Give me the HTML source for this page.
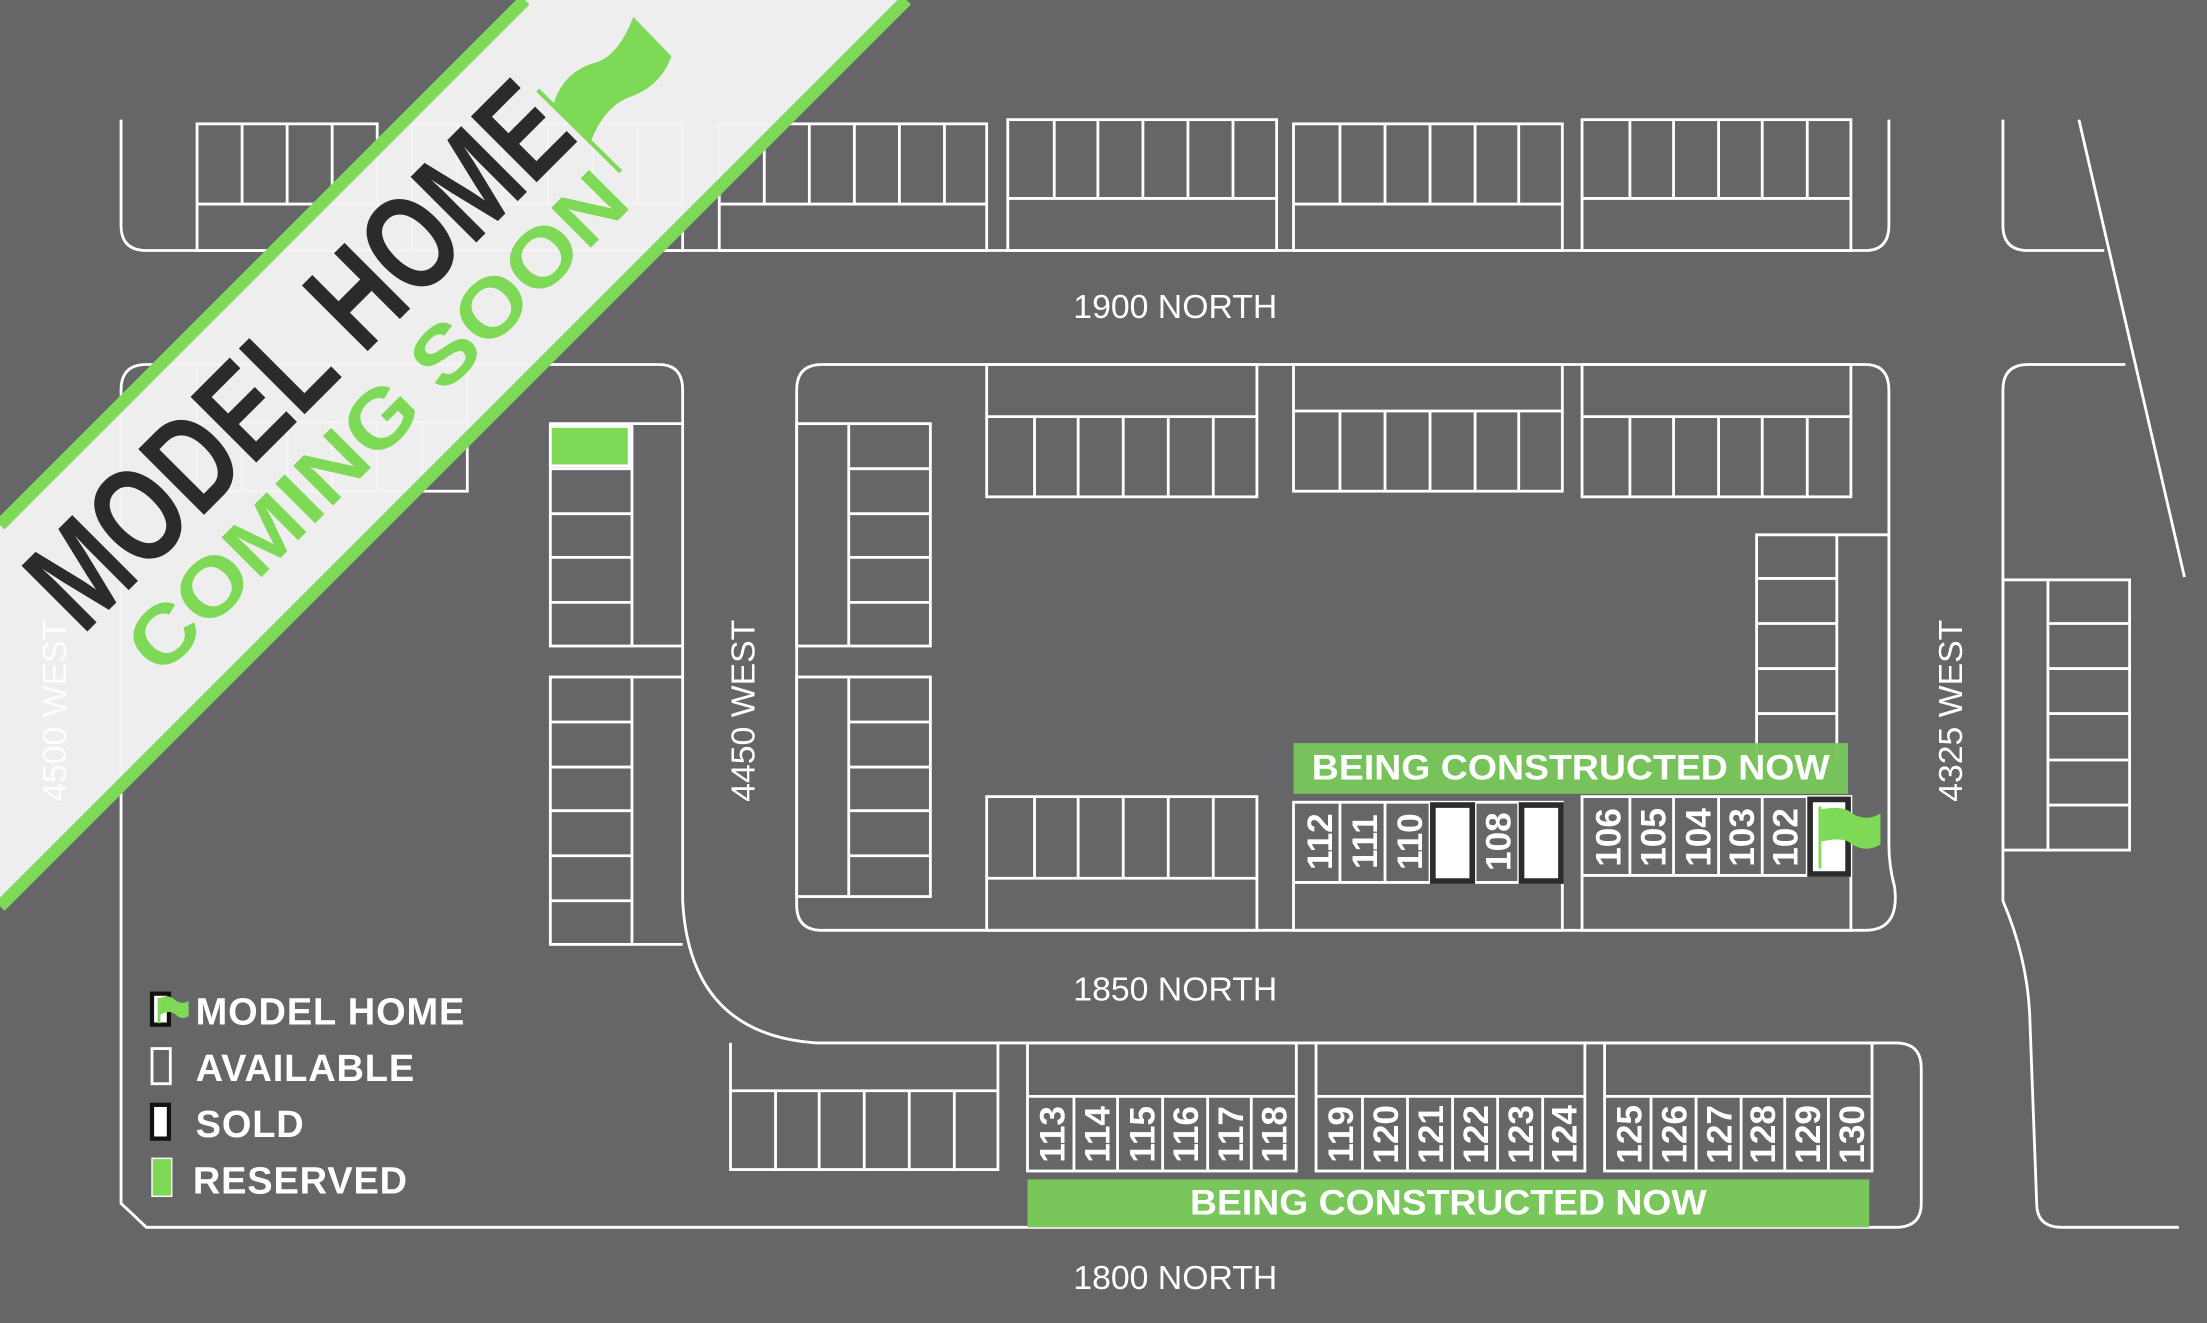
<!DOCTYPE html>
<html><head><meta charset="utf-8"><style>
html,body{margin:0;padding:0;background:#666668;}
svg{display:block;}
.l{fill:none;stroke:#fff;stroke-width:2;}
.n{font-family:"Liberation Sans",sans-serif;font-weight:bold;font-size:25px;fill:#fff;text-anchor:middle;dominant-baseline:central;}
.st{font-family:"Liberation Sans",sans-serif;font-size:24px;fill:#fff;text-anchor:middle;}
.lg{font-family:"Liberation Sans",sans-serif;font-weight:bold;font-size:27px;fill:#fff;letter-spacing:0.6px;}
.bc{font-family:"Liberation Sans",sans-serif;font-weight:bold;font-size:25px;fill:#fff;text-anchor:middle;}
</style></head><body>
<svg width="2207" height="1323" viewBox="0 0 1568 940" preserveAspectRatio="none" xmlns="http://www.w3.org/2000/svg">
<rect width="1568" height="940" fill="#666668"/>
<g class="l">
<path d="M86 85 V160 Q86 178 104 178 H1325 Q1342 178 1342 160 V85"/>
<rect x="140" y="88" width="128" height="90"/><path d="M140 145H268 M172 88V145 M204 88V145 M236 88V145"/>
<rect x="293" y="88" width="192" height="90"/><path d="M293 145H485 M325 88V145 M357 88V145 M389 88V145 M421 88V145 M453 88V145"/>
<rect x="511" y="88" width="190" height="90"/><path d="M511 145H701 M543 88V145 M575 88V145 M607 88V145 M639 88V145 M671 88V145"/>
<rect x="716" y="85" width="191" height="93"/><path d="M716 141H907 M749 85V141 M780 85V141 M812 85V141 M844 85V141 M876 85V141"/>
<rect x="919" y="88" width="191" height="90"/><path d="M919 145H1110 M952 88V145 M984 88V145 M1016 88V145 M1048 88V145 M1079 88V145"/>
<rect x="1124" y="85" width="191" height="93"/><path d="M1124 141H1315 M1158 85V141 M1189 85V141 M1221 85V141 M1252 85V141 M1284 85V141"/>
<path d="M86 277 Q86 259 104 259 H468 Q485 259 485 277 V640 Q490 735 580 741 H1347 Q1365 741 1365 759 V855 Q1365 872 1347 872 H104 L86 855 Z"/>
<rect x="140" y="259" width="192" height="90"/><path d="M140 300H332 M172 300V349 M204 300V349 M236 300V349 M268 300V349 M300 300V349"/>
<rect x="391" y="301" width="58" height="158"/><path d="M391 333H449 M391 365H449 M391 396H449 M391 428H449 M449 301H485 M449 459H485"/>
<rect x="391" y="481" width="58" height="190"/><path d="M391 513H449 M391 545H449 M391 576H449 M391 608H449 M391 640H449 M449 481H485 M449 671H485"/>
<path d="M584 259 H1325 Q1342 259 1342 277 V600 Q1342 615 1346 630 Q1350 661 1325 661 H584 Q566 661 566 643 V277 Q566 259 584 259 Z"/>
<rect x="566" y="301" width="95" height="158"/><path d="M603 301V459 M603 333H661 M603 365H661 M603 396H661 M603 428H661"/>
<rect x="566" y="481" width="95" height="156"/><path d="M603 481V637 M603 513H661 M603 545H661 M603 576H661 M603 608H661"/>
<rect x="701" y="259" width="192" height="94"/><path d="M701 296H893 M735 296V353 M766 296V353 M798 296V353 M830 296V353 M862 296V353"/>
<rect x="919" y="259" width="191" height="90"/><path d="M919 292H1110 M952 292V349 M984 292V349 M1016 292V349 M1048 292V349 M1079 292V349"/>
<rect x="1124" y="259" width="191" height="94"/><path d="M1124 296H1315 M1158 296V353 M1189 296V353 M1221 296V353 M1252 296V353 M1284 296V353"/>
<path d="M1248 540V380H1342 M1305 380V540 M1248 411H1305 M1248 443H1305 M1248 475H1305 M1248 507H1305"/>
<rect x="701" y="566" width="192" height="95"/><path d="M701 624H893 M735 566V624 M766 566V624 M798 566V624 M830 566V624 M862 566V624"/>
<rect x="919" y="570" width="191" height="91"/><path d="M919 627H1110 M952 570V627 M984 570V627 M1016 570V627 M1048 570V627 M1079 570V627"/>
<rect x="1124" y="566" width="191" height="95"/><path d="M1124 622H1315 M1158 566V622 M1189 566V622 M1221 566V622 M1252 566V622 M1284 566V622"/>
<path d="M519 741V831H709V741 M519 775H709 M551 775V831 M582 775V831 M614 775V831 M646 775V831 M678 775V831"/>
<rect x="730" y="741" width="191" height="91"/><path d="M730 779H921 M763 779V832 M794 779V832 M826 779V832 M858 779V832 M889 779V832"/>
<rect x="935" y="741" width="191" height="91"/><path d="M935 779H1126 M968 779V832 M1000 779V832 M1032 779V832 M1064 779V832 M1096 779V832"/>
<rect x="1140" y="741" width="190" height="91"/><path d="M1140 779H1330 M1173 779V832 M1205 779V832 M1237 779V832 M1268 779V832 M1299 779V832"/>
<path d="M1423 85V160 Q1423 178 1441 178 H1495"/>
<path d="M1477 85 L1552 410"/>
<path d="M1510 259 H1441 Q1423 259 1423 277 V640 Q1440 680 1442 720 L1447 855 Q1447 872 1465 872 H1548"/>
<rect x="1423" y="412" width="90" height="192"/><path d="M1455 412V604 M1455 443H1513 M1455 475H1513 M1455 507H1513 M1455 540H1513 M1455 572H1513"/>
</g>
<rect x="391" y="303" width="56" height="28" fill="#7ed957" stroke="#fff" stroke-width="2"/>
<rect x="1018" y="572" width="28" height="54" fill="#fff" stroke="#2b2b2b" stroke-width="4"/>
<rect x="1081" y="572" width="28" height="54" fill="#fff" stroke="#2b2b2b" stroke-width="4"/>
<rect x="1286" y="568" width="27" height="53" fill="#fff" stroke="#2b2b2b" stroke-width="4"/>
<rect x="1292" y="573" width="2" height="44" fill="#7ed957"/>
<path d="M1294 575 Q1310 572 1316 578 Q1326 584 1336 578 V600 Q1326 606 1316 600 Q1310 594 1294 598 Z" fill="#7ed957"/>
<g class="n">
<text transform="translate(938 598) rotate(-90)">112</text>
<text transform="translate(970 598) rotate(-90)">111</text>
<text transform="translate(1002 598) rotate(-90)">110</text>
<text transform="translate(1065 598) rotate(-90)">108</text>
<text transform="translate(1143 595) rotate(-90)">106</text>
<text transform="translate(1175 595) rotate(-90)">105</text>
<text transform="translate(1207 595) rotate(-90)">104</text>
<text transform="translate(1238 595) rotate(-90)">103</text>
<text transform="translate(1269 595) rotate(-90)">102</text>
<text transform="translate(748 806) rotate(-90)">113</text>
<text transform="translate(780 806) rotate(-90)">114</text>
<text transform="translate(812 806) rotate(-90)">115</text>
<text transform="translate(843 806) rotate(-90)">116</text>
<text transform="translate(875 806) rotate(-90)">117</text>
<text transform="translate(906 806) rotate(-90)">118</text>
<text transform="translate(953 806) rotate(-90)">119</text>
<text transform="translate(985 806) rotate(-90)">120</text>
<text transform="translate(1017 806) rotate(-90)">121</text>
<text transform="translate(1049 806) rotate(-90)">122</text>
<text transform="translate(1081 806) rotate(-90)">123</text>
<text transform="translate(1112 806) rotate(-90)">124</text>
<text transform="translate(1158 806) rotate(-90)">125</text>
<text transform="translate(1190 806) rotate(-90)">126</text>
<text transform="translate(1222 806) rotate(-90)">127</text>
<text transform="translate(1253 806) rotate(-90)">128</text>
<text transform="translate(1285 806) rotate(-90)">129</text>
<text transform="translate(1316 806) rotate(-90)">130</text>
</g>
<rect x="919" y="528" width="394" height="36" fill="#79c65b" opacity="0.96"/>
<text class="bc" x="1116" y="554" textLength="368" lengthAdjust="spacingAndGlyphs">BEING CONSTRUCTED NOW</text>
<rect x="730" y="838" width="598" height="34" fill="#79c65b"/>
<text class="bc" x="1029" y="863" textLength="367" lengthAdjust="spacingAndGlyphs">BEING CONSTRUCTED NOW</text>
<text class="st" x="835" y="226">1900 NORTH</text>
<text class="st" x="835" y="711">1850 NORTH</text>
<text class="st" x="835" y="916">1800 NORTH</text>
<text class="st" transform="translate(536 505) rotate(-90)">4450 WEST</text>
<text class="st" transform="translate(1394 505) rotate(-90)">4325 WEST</text>
<rect x="108" y="706" width="12" height="22" fill="#fff" stroke="#111" stroke-width="3"/>
<rect x="112" y="709" width="2" height="18" fill="#7ed957"/>
<path d="M114 709 Q120 706 125 711 Q130 714 134 711 V722 Q129 725 125 721 Q120 717 114 721 Z" fill="#7ed957"/>
<text class="lg" x="139" y="728">MODEL HOME</text>
<rect x="108" y="745" width="13" height="25" fill="none" stroke="#fff" stroke-width="2"/>
<text class="lg" x="139" y="768">AVAILABLE</text>
<rect x="108" y="785" width="12" height="24" fill="#fff" stroke="#111" stroke-width="3"/>
<text class="lg" x="139" y="808">SOLD</text>
<rect x="108" y="823" width="14" height="27" fill="#7ed957" stroke="#fff" stroke-width="1"/>
<text class="lg" x="137" y="848">RESERVED</text>
<polygon points="0,373 373,0 644,0 0,644" fill="#f3f3f3" opacity="0.97"/>
<line x1="0" y1="373" x2="373" y2="0" stroke="#7ed957" stroke-width="9"/>
<line x1="0" y1="644" x2="644" y2="0" stroke="#7ed957" stroke-width="9"/>
<text class="st" transform="translate(47 505) rotate(-90)" style="fill:#fff;opacity:0.9">4500 WEST</text>
<text transform="translate(212 252) rotate(-45)" text-anchor="middle" dominant-baseline="central" font-family="Liberation Sans Narrow, Liberation Sans, sans-serif" font-weight="bold" font-size="96" fill="#2b2b2b" textLength="500" lengthAdjust="spacingAndGlyphs">MODEL HOME</text>
<text transform="translate(268 300) rotate(-45)" text-anchor="middle" dominant-baseline="central" font-family="Liberation Sans, sans-serif" font-weight="bold" font-size="58" fill="#7ed957" textLength="475" lengthAdjust="spacingAndGlyphs">COMING SOON</text>
<line x1="382" y1="64" x2="441" y2="122" stroke="#7ed957" stroke-width="3"/>
<path d="M393 75 Q400 50 425 44 Q440 38 450 12 L477 40 Q470 60 450 68 Q430 74 420 100 Z" fill="#7ed957"/>
</svg>
</body></html>
